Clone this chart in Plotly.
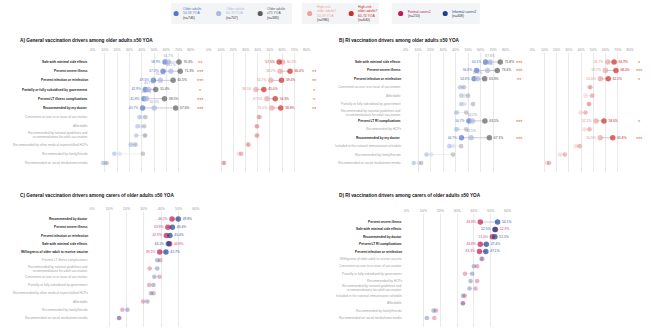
import plotly.graph_objects as go

W, H = 650, 331
def X(px): return px / W
def Y(py): return 1 - py / H

# ---------------- DATA ----------------
rows_A = ["Safe with minimal side effects", "Prevent severe illness", "Prevent infection or reinfection",
          "Partially or fully subsidised by government", "Prevent LT illness complications",
          "Recommended by my doctor", "Convenient access to or ease of vaccination", "Affordable",
          "Recommended by national guidelines and<br>recommendations for adult vaccination",
          "Recommended by other medical experts/allied HCPs", "Recommended by family/friends",
          "Recommended on social media/news media"]
sig_A = [1, 1, 1, 1, 1, 1, 0, 0, 0, 0, 0, 0]
A_50_59 = [58.9, 57.3, 49.5, 42.9, 41.8, 40.7, 38.0, 36.5, 35.5, 31.0, 17.7, 8.5]
A_60_74 = [61.7, 63.7, 55.1, 45.7, 43.9, 50.1, 40.0, 39.0, 43.0, 33.0, 22.0, 10.0]
A_75 = [70.3, 71.3, 65.5, 51.4, 58.5, 67.6, 43.0, 42.0, 42.5, 35.0, 41.0, 11.5]
A_HR_50_59 = [60.3, 58.2, 50.7, 38.5, 47.5, 51.5, 40.5, 39.0, 39.0, 31.5, 24.5, 12.0]
A_HR_60_74 = [57.5, 66.4, 59.4, 45.0, 54.3, 58.8, 41.5, 39.5, 39.5, 32.5, 26.5, 12.5]
stars_A_left = ["**", "***", "***", "*", "***", "***", "", "", "", "", "", ""]
stars_A_right = ["", "**", "**", "*", "*", "**", "", "", "", "", "", ""]

rows_B = ["Safe with minimal side effects", "Prevent severe illness", "Prevent infection or reinfection",
          "Convenient access to or ease of vaccination", "Affordable",
          "Partially or fully subsidised by government",
          "Recommended by national guidelines and<br>recommendations for adult vaccination",
          "Prevent LT RI complications", "Recommended by HCPs", "Recommended by my doctor",
          "Included in the national immunisation schedule", "Recommended by family/friends",
          "Recommended on social media/news media"]
sig_B = [1, 1, 1, 0, 0, 0, 0, 1, 0, 1, 0, 0, 0]
B_50_59 = [64.1, 56.8, 54.8, 43.5, 44.5, 44.5, 40.5, 50.7, 40.5, 44.7, 35.0, 16.7, 6.5]
B_60_74 = [67.6, 65.7, 57.6, 45.0, 47.0, 47.0, 41.5, 53.5, 42.0, 52.5, 38.0, 20.6, 10.5]
B_75 = [75.8, 73.4, 63.3, 46.8, 50.0, 54.0, 48.5, 63.5, 48.5, 67.1, 44.5, 38.0, 12.5]
B_HR_50_59 = [61.7, 59.7, 55.6, 46.5, 43.5, 46.0, 39.5, 52.1, 42.7, 55.5, 35.5, 22.6, 12.0]
B_HR_60_74 = [66.9, 68.4, 62.1, 47.5, 49.0, 46.5, 43.5, 58.6, 46.8, 65.8, 38.7, 26.6, 13.7]
stars_B_left = ["***", "***", "**", "", "", "", "", "***", "", "***", "", "", ""]
stars_B_right = ["*", "***", "*", "", "", "", "", "*", "", "***", "", "", ""]

rows_C = ["Recommended by doctor", "Prevent severe illness", "Prevent infection or reinfection",
          "Safe with minimal side effects", "Willingness of older adult to receive vaccine",
          "Prevent LT illness complications",
          "Recommended by national guidelines and<br>recommendations for adult vaccination",
          "Convenient access to or ease of vaccination", "Partially or fully subsidised by government",
          "Recommended by other medical experts/allied HCPs", "Affordable",
          "Recommended by family/friends", "Recommended on social media/news media"]
sig_C = [1, 1, 1, 1, 1, 0, 0, 0, 0, 0, 0, 0, 0]
C_formal = [46.2, 43.8, 42.9, 44.8, 39.1, 39.4, 33.3, 39.0, 33.0, 35.5, 29.5, 17.5, 15.5]
C_informal = [49.8, 46.4, 45.0, 44.1, 42.7, 37.7, 37.7, 36.0, 35.5, 34.0, 32.0, 20.5, 15.8]

rows_D = ["Prevent severe illness", "Safe with minimal side effects", "Recommended by doctor",
          "Prevent LT RI complications", "Prevent infection or reinfection",
          "Willingness of older adult to receive vaccine", "Convenient access to or ease of vaccination",
          "Partially or fully subsidised by government", "Recommended by HCPs",
          "Recommended by national guidelines and<br>recommendations for adult vaccination",
          "Included in the national immunisation schedule", "Affordable",
          "Recommended by family/friends", "Recommended on social media/news media"]
sig_D = [1, 1, 1, 1, 1, 0, 0, 0, 0, 0, 0, 0, 0, 0]
D_formal = [43.8, 52.9, 51.0, 43.8, 43.3, 45.0, 42.0, 34.7, 42.0, 41.0, 34.7, 33.5, 17.5, 16.5]
D_informal = [54.1, 52.5, 52.5, 47.4, 47.1, 44.5, 40.0, 39.0, 38.0, 37.4, 33.5, 33.5, 16.0, 12.0]

legend_groups = [
    [("Older adults<br>50-59 YOA", "(n=746)", "#5478cc"),
     ("Older adults<br>60-74 YOA", "(n=707)", "#aeb8e2"),
     ("Older adults<br>≥75 YOA", "(n=383)", "#5f5f5f")],
    [("High-risk<br>older adults†<br>50-59 YOA", "(n=986)", "#eda3a3"),
     ("High-risk<br>older adults†<br>60-74 YOA", "(n=640)", "#cf2b2b")],
    [("Formal carers‡", "(n=210)", "#c4174f"),
     ("Informal carers‡", "(n=408)", "#1f3f8f")],
]

# ---------------- STYLE ----------------
C_BLUE, C_LAV, C_GREY = "#5478cc", "#aeb8e2", "#5f5f5f"
C_PINK, C_RED = "#eda3a3", "#cf2b2b"
C_FORMAL, C_INFORMAL = "#c4174f", "#1f3f8f"
TXT_BLUE, TXT_LAV, TXT_GREY = "#4a6cc0", "#8e9acb", "#444444"
TXT_PINK, TXT_RED = "#e08a8a", "#c02828"
FONT = "Liberation Sans, Arial, sans-serif"

def rgba(h, a):
    h = h.lstrip("#")
    r, g, b = int(h[0:2], 16), int(h[2:4], 16), int(h[4:6], 16)
    return f"rgba({r},{g},{b},{a})"

fig = go.Figure()
layout = {}
annotations = []
shapes = []

def axis_names(k):
    return ("x" if k == 1 else f"x{k}"), ("y" if k == 1 else f"y{k}")

def add_subplot(k, x0, x1, vmax, n, r1, rn, gt, gb, rows, sig, series, label_px,
                stars=None, star_px=None):
    xn, yn = axis_names(k)
    s = (rn - r1) / (n - 1)
    layout["xaxis" if k == 1 else f"xaxis{k}"] = dict(
        domain=[X(x0), X(x1)], range=[0, vmax], anchor=yn, side="top",
        tickvals=list(range(0, vmax + 1, 10)),
        ticktext=[f"{v}%" for v in range(0, vmax + 1, 10)],
        showgrid=True, gridcolor="#e9e9e9", gridwidth=0.6, zeroline=False,
        showline=False, ticks="", tickfont=dict(size=3.6, color="#9a9a9a"), fixedrange=True)
    layout["yaxis" if k == 1 else f"yaxis{k}"] = dict(
        domain=[Y(gb), Y(gt)], range=[(gb - r1) / s, -(r1 - gt) / s], anchor=xn,
        showticklabels=False, showgrid=False, zeroline=False, showline=False, fixedrange=True)

    # connecting lines
    for flag, col, wd in [(0, "#e6e6e6", 0.6), (1, "#b5b5b5", 0.7)]:
        lx, ly = [], []
        for i in range(n):
            if sig[i] != flag:
                continue
            vals = [ser[0][i] for ser in series]
            lx += [min(vals), max(vals), None]
            ly += [i, i, None]
        if lx:
            fig.add_trace(go.Scatter(x=lx, y=ly, mode="lines", xaxis=xn, yaxis=yn,
                                     line=dict(color=col, width=wd), hoverinfo="skip",
                                     showlegend=False))
    # markers + labels
    for si, (vals, col, tcol) in enumerate(series):
        texts, poss, mcols, sizes = [], [], [], []
        for i in range(n):
            rowvals = [ser[0][i] for ser in series]
            order = sorted(range(len(series)), key=lambda j: rowvals[j])
            if sig[i]:
                texts.append(f"{vals[i]:.1f}%")
                if si == order[0]:
                    poss.append("middle left")
                elif si == order[-1]:
                    poss.append("middle right")
                else:
                    poss.append("top center")
                mcols.append(col)
                sizes.append(5.5)
            else:
                texts.append("")
                poss.append("middle right")
                mcols.append(rgba(col, 0.45))
                sizes.append(4.6)
        fig.add_trace(go.Scatter(
            x=vals, y=list(range(n)), mode="markers+text", xaxis=xn, yaxis=yn,
            marker=dict(color=mcols, size=sizes, line=dict(width=0)),
            text=texts, textposition=poss,
            textfont=dict(size=3.3, color=tcol, family=FONT),
            cliponaxis=False, hoverinfo="skip", showlegend=False))
    # row labels
    if rows is not None:
        for i, lab in enumerate(rows):
            txt = f"<b>{lab}</b>" if sig[i] else lab
            annotations.append(dict(
                x=X(label_px), xref="paper", xanchor="right", y=i, yref=yn, yanchor="middle",
                text=txt, showarrow=False, align="right",
                font=dict(size=3.2, color="#222222" if sig[i] else "#a3a3a3", family=FONT)))
    if stars is not None:
        for i, st in enumerate(stars):
            if st:
                annotations.append(dict(
                    x=X(star_px), xref="paper", xanchor="center", y=i + 0.12, yref=yn,
                    yanchor="middle", text=st, showarrow=False,
                    font=dict(size=5.6, color="#e0673f", family=FONT)))

# Panel A
add_subplot(1, 90.5, 190, 80, 12, 62, 163, 53, 172, rows_A, sig_A,
            [(A_50_59, C_BLUE, TXT_BLUE), (A_60_74, C_LAV, TXT_LAV), (A_75, C_GREY, TXT_GREY)],
            88, stars_A_left, 200)
add_subplot(2, 208, 307, 80, 12, 62, 163, 53, 172, None, sig_A,
            [(A_HR_50_59, C_PINK, TXT_PINK), (A_HR_60_74, C_RED, TXT_RED)],
            0, stars_A_right, 315)
# Panel B
add_subplot(3, 407, 508, 80, 13, 62, 163, 53, 172, rows_B, sig_B,
            [(B_50_59, C_BLUE, TXT_BLUE), (B_60_74, C_LAV, TXT_LAV), (B_75, C_GREY, TXT_GREY)],
            404, stars_B_left, 522)
add_subplot(4, 535, 634, 80, 13, 62, 163, 53, 172, None, sig_B,
            [(B_HR_50_59, C_PINK, TXT_PINK), (B_HR_60_74, C_RED, TXT_RED)],
            0, stars_B_right, 643)
# Panel C
add_subplot(5, 90, 195, 60, 13, 219, 318, 212, 327, rows_C, sig_C,
            [(C_formal, C_FORMAL, "#d2406e"), (C_informal, C_INFORMAL, "#3a55a0")], 88)
# Panel D
add_subplot(6, 408, 510, 60, 14, 222, 318, 214, 327, rows_D, sig_D,
            [(D_formal, C_FORMAL, "#d2406e"), (D_informal, C_INFORMAL, "#3a55a0")], 405)

# Titles
titles = [("A) General vaccination drivers among older adults ≥50 YOA", 15, 40),
          ("B) RI vaccination drivers among older adults ≥50 YOA", 338, 40),
          ("C) General vaccination drivers among carers of older adults ≥50 YOA", 15, 195),
          ("D) RI vaccination drivers among carers of older adults ≥50 YOA", 338, 195)]
for t, xp, yp in titles:
    annotations.append(dict(x=X(xp), y=Y(yp), xref="paper", yref="paper", xanchor="left",
                            yanchor="middle", text=f"<b>{t}</b>", showarrow=False,
                            font=dict(size=4.7, color="#111111", family=FONT)))

# Legend
boxes = [(170, 292), (302, 380), (393, 482)]
item_px = [[175, 218, 260], [310, 352], [402, 447]]
for (bx0, bx1), grp, xs in zip(boxes, legend_groups, item_px):
    shapes.append(dict(type="rect", xref="paper", yref="paper", x0=X(bx0), x1=X(bx1),
                       y0=Y(24), y1=Y(3), fillcolor="#f3f4f6", line=dict(width=0), layer="below"))
    for (name, nn, col), xp in zip(grp, xs):
        shapes.append(dict(type="circle", xref="paper", yref="paper",
                           x0=X(xp - 2.6), x1=X(xp + 2.6), y0=Y(13.5 + 2.6), y1=Y(13.5 - 2.6),
                           fillcolor=col, line=dict(width=0)))
        annotations.append(dict(x=X(xp + 5), y=Y(13.5), xref="paper", yref="paper",
                                xanchor="left", yanchor="middle", align="left", showarrow=False,
                                text=f"<span style='color:{col}'>{name}</span><br>{nn}",
                                font=dict(size=3.4, color="#333333", family=FONT)))

layout.update(dict(width=W, height=H, margin=dict(l=0, r=0, t=0, b=0), autosize=False,
                   paper_bgcolor="white", plot_bgcolor="white", showlegend=False,
                   font=dict(family=FONT), annotations=annotations, shapes=shapes))
fig.update_layout(**layout)
fig.write_html("out.html")
